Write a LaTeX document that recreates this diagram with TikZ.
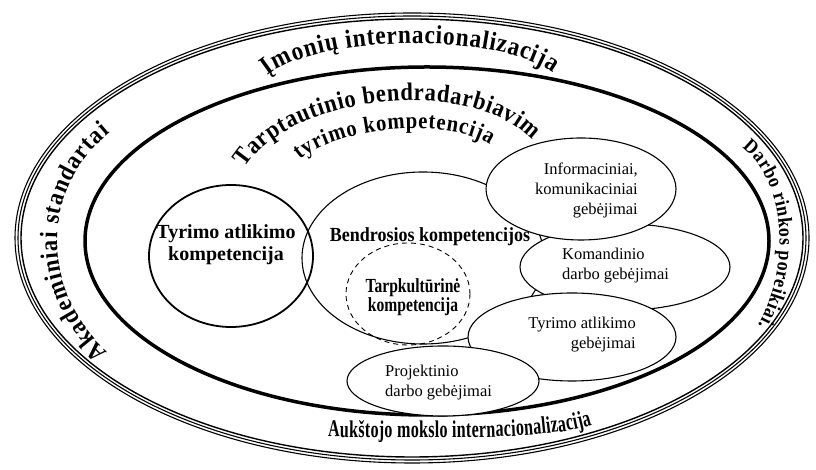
\documentclass[tikz,border=0pt]{standalone}
\usepackage{fontspec}
\setmainfont{Liberation Serif}
\newfontfamily\semifont[FakeStretch=0.9]{Liberation Serif}
\newfontfamily\narrowfont[FakeStretch=0.78]{Liberation Serif}
\newfontfamily\tallfont[FakeStretch=0.67]{Liberation Serif}
\usetikzlibrary{shapes.geometric,decorations.text}

\begin{document}
\begin{tikzpicture}[x=1pt, y=1pt,
  ring/.style={line width=1.1pt},
  blob/.style={draw, ellipse, line width=1.1pt, inner sep=0pt},
  skill/.style={blob, fill=white},
  lbl/.style={inner sep=0pt, font=\fontsize{16.5}{20}\selectfont},
  head/.style={inner sep=0pt, align=center, font=\bfseries\fontsize{20}{22}\selectfont},
  arc text/.style={decorate, decoration={text along path, text align=fit to path, text={#1}}}]
\useasboundingbox (0,0) rectangle (816,470);
% outer triple ring
\draw[ring] (412,232) ellipse [x radius=397pt, y radius=225pt];
\draw[ring] (412,232) ellipse [x radius=394pt, y radius=222pt];
\draw[ring, line width=1.4pt] (412,232) ellipse [x radius=391pt, y radius=219pt];
% inner ring
\draw[line width=3.5pt] (427,229) ellipse [x radius=342pt, y radius=174pt];

% texts along the rings
\path[arc text={|\semifont\bfseries\fontsize{26}{26}\selectfont|Įmonių internacionalizacija}]
  (268,394) .. controls (320,437) and (500,437) .. (553,397);
\path[arc text={|\semifont\bfseries\fontsize{25}{25}\selectfont|Akademiniai standartai}]
  (108,118) .. controls (40,180) and (40,280) .. (110,337);
\path[arc text={|\semifont\bfseries\fontsize{20}{20}\selectfont|Darbo rinkos poreikiai.}]
  (742,322) .. controls (785,290) and (792,205) .. (758,145);
\path[arc text={|\tallfont\bfseries\fontsize{24}{24}\selectfont|Aukštojo mokslo internacionalizacija}]
  (328,33) .. controls (450,32) and (545,30) .. (592,45);
\path[arc text={|\semifont\bfseries\fontsize{25}{25}\selectfont|Tarptautinio bendradarbiavim}]
  (245,302) .. controls (290,375) and (470,395) .. (532,330);
\path[arc text={|\semifont\bfseries\fontsize{23}{23}\selectfont|tyrimo kompetencija}]
  (300,310) .. controls (340,345) and (450,352) .. (490,325);

% competences
\node[blob, line width=1.8pt, minimum width=164pt, minimum height=142pt] (research) at (231,214) {};
\node[blob, minimum width=242pt, minimum height=172pt] (general) at (423,212) {};
\node[blob, line width=0.9pt, dash pattern=on 5pt off 4pt, minimum width=124pt, minimum height=102pt] (intercult) at (408,176) {};
\node[skill, minimum width=210pt, minimum height=86pt] (team) at (625,203) {};
\node[skill, minimum width=190pt, minimum height=102pt] (info) at (581,281) {};
\node[skill, minimum width=208pt, minimum height=88pt] (inquiry) at (572,133) {};
\node[skill, minimum width=192pt, minimum height=70pt] (project) at (443,89) {};

\node[head] (research-txt) at (226,225.5) {Tyrimo atlikimo\\kompetencija};
\node[head, font=\semifont\bfseries\fontsize{20}{22}\selectfont, anchor=base] (general-txt) at (430,228) {Bendrosios kompetencijos};
\node[head, font=\narrowfont\bfseries\fontsize{20}{19}\selectfont] (intercult-txt) at (413,173) {Tarpkultūrinė\\kompetencija};
\node[lbl, align=right, anchor=east] (info-txt) at (638,279.5) {Informaciniai,\\komunikaciniai\\gebėjimai};
\node[lbl, align=left, anchor=west] (team-txt) at (562,204) {Komandinio\\darbo gebėjimai};
\node[lbl, align=right, anchor=east] (inquiry-txt) at (636,135.5) {Tyrimo atlikimo\\gebėjimai};
\node[lbl, align=left, anchor=west] (project-txt) at (385,87) {Projektinio\\darbo gebėjimai};
\end{tikzpicture}
\end{document}
